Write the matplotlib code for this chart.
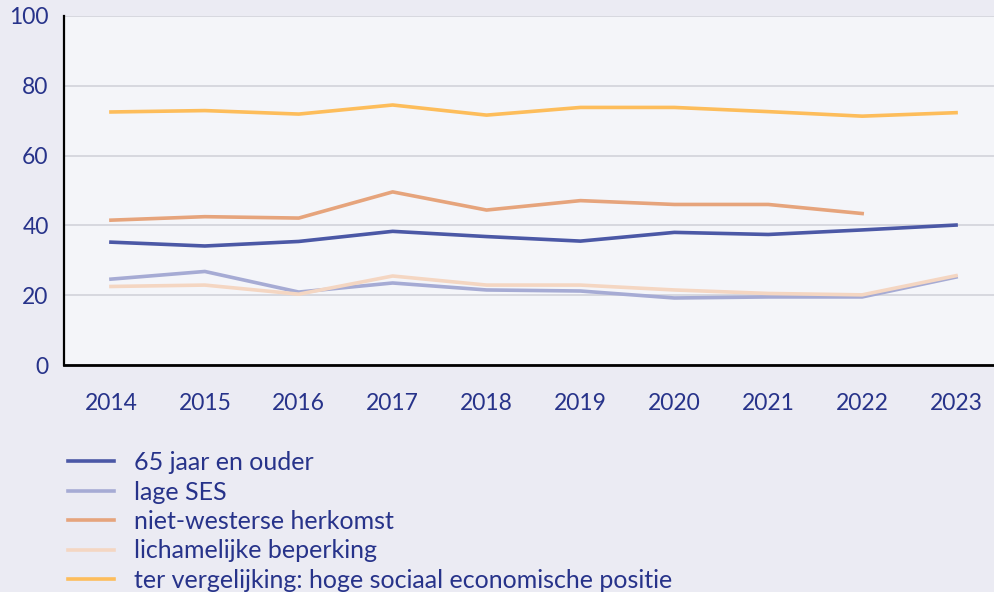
import matplotlib.pyplot as plt

years = [2014, 2015, 2016, 2017, 2018, 2019, 2020, 2021, 2022, 2023]

ouderen = [35.2, 34.1, 35.4, 38.3, 36.8, 35.5, 38.0, 37.4, 38.7, 40.1]
lage_ses = [24.6, 26.8, 20.9, 23.5, 21.5, 21.2, 19.2, 19.5, 19.5, 25.2]
niet_westers = [41.5, 42.5, 42.1, 49.6, 44.4, 47.1, 46.0, 46.0, 43.4, None]
beperking = [22.5, 22.9, 20.3, 25.5, 22.9, 22.9, 21.5, 20.5, 20.1, 25.6]
hoge_ses = [72.5, 72.9, 71.9, 74.5, 71.6, 73.8, 73.8, 72.6, 71.3, 72.3]

labels = ['65 jaar en ouder', 'lage SES', 'niet-westerse herkomst',
          'lichamelijke beperking',
          'ter vergelijking: hoge sociaal economische positie']
colors = ['#4b58a6', '#a6abd4', '#e6a47c', '#f4d6c2', '#fdbd5b']

text_col = '#27338a'
plt.rcParams['font.family'] = ['Lato', 'DejaVu Sans']

fig = plt.figure(figsize=(9.94, 5.92), dpi=100, facecolor='#ebebf3')
ax = fig.add_axes([64 / 994, 227 / 592, 939 / 994, 349 / 592])
ax.set_facecolor('#f4f5f9')

series = [ouderen, lage_ses, niet_westers, beperking, hoge_ses]
order = [4, 2, 0, 3, 1]
for i in order:
    xs = [x for x, v in zip(years, series[i]) if v is not None]
    vs = [v for v in series[i] if v is not None]
    ax.plot(xs, vs, color=colors[i], lw=2.6, label=labels[i], zorder=3 + i)

ax.set_xlim(2013.5, 2023.5)
ax.set_ylim(0, 100)
ax.set_yticks([0, 20, 40, 60, 80, 100])
ax.set_xticks(years)
ax.grid(axis='y', color='#d2d3da', lw=1.2)
ax.set_axisbelow(True)
for s in ['top', 'right']:
    ax.spines[s].set_visible(False)
ax.spines['left'].set_linewidth(1.6)
ax.spines['bottom'].set_linewidth(2)
ax.tick_params(length=0, labelsize=16.5, colors=text_col)
ax.tick_params(axis='x', pad=20)
ax.tick_params(axis='y', pad=11)

handles, labs = ax.get_legend_handles_labels()
hmap = dict(zip(labs, handles))
leg = fig.legend([hmap[l] for l in labels], labels, loc='upper left',
                 bbox_to_anchor=(58 / 994, 1 - 441 / 592), frameon=False,
                 fontsize=18, handlelength=1.85, handletextpad=0.78,
                 labelspacing=0.26, borderaxespad=0)
for t in leg.get_texts():
    t.set_color(text_col)

fig.savefig('out.png', dpi=100, facecolor=fig.get_facecolor())
